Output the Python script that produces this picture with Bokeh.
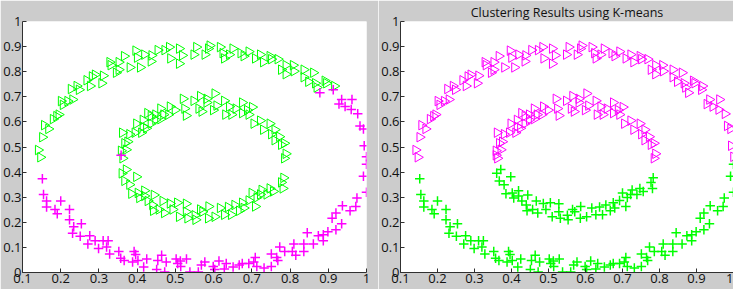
import math
from bokeh.plotting import figure
from bokeh.layouts import row
from bokeh.models import FixedTicker, Range1d
from bokeh.embed import file_html
from bokeh.resources import INLINE

# ---------------- data ----------------
outer_top_x = [0.141, 0.147, 0.152, 0.157, 0.168, 0.180, 0.189, 0.195, 0.201, 0.206, 0.218, 0.231, 0.227,
               0.242, 0.248, 0.268, 0.277, 0.282, 0.290, 0.307, 0.311, 0.328, 0.331, 0.345, 0.352, 0.352,
               0.366, 0.381, 0.396, 0.400, 0.408, 0.419, 0.438, 0.436, 0.454, 0.472, 0.484, 0.487, 0.510,
               0.510, 0.518, 0.548, 0.555, 0.577, 0.586, 0.590, 0.617, 0.624, 0.628, 0.641, 0.650, 0.671,
               0.679, 0.692, 0.709, 0.722, 0.730, 0.747, 0.751, 0.768, 0.777, 0.789, 0.789, 0.808, 0.810,
               0.836, 0.836, 0.861, 0.848, 0.866, 0.870, 0.891, 0.895, 0.916]
outer_top_y = [0.488, 0.459, 0.539, 0.587, 0.572, 0.611, 0.623, 0.629, 0.683, 0.668, 0.683, 0.689, 0.731,
               0.743, 0.728, 0.766, 0.743, 0.781, 0.788, 0.754, 0.784, 0.838, 0.826, 0.796, 0.838, 0.808,
               0.862, 0.817, 0.884, 0.856, 0.817, 0.868, 0.865, 0.841, 0.886, 0.886, 0.898, 0.853, 0.892,
               0.832, 0.865, 0.868, 0.898, 0.868, 0.892, 0.904, 0.898, 0.874, 0.853, 0.868, 0.892, 0.874,
               0.862, 0.880, 0.853, 0.868, 0.838, 0.862, 0.850, 0.850, 0.808, 0.826, 0.790, 0.826, 0.802,
               0.808, 0.778, 0.796, 0.760, 0.754, 0.737, 0.764, 0.754, 0.743]

outer_right_x = [0.878, 0.913, 0.935, 0.928, 0.944, 0.962, 0.960, 0.977, 0.983, 0.992, 0.994, 1.000]
outer_right_y = [0.716, 0.728, 0.689, 0.671, 0.661, 0.689, 0.649, 0.632, 0.584, 0.572, 0.505, 0.461]

outer_bottom_x = [1.000, 0.992, 1.000, 0.975, 0.972, 0.957, 0.937, 0.935, 0.920, 0.910, 0.920, 0.899,
                  0.887, 0.874, 0.887, 0.861, 0.845, 0.836, 0.836, 0.810, 0.806, 0.815, 0.773, 0.786,
                  0.765, 0.751, 0.768, 0.751, 0.732, 0.713, 0.709, 0.705, 0.692, 0.675, 0.667, 0.651,
                  0.633, 0.628, 0.614, 0.599, 0.603, 0.577, 0.568, 0.560, 0.538, 0.529, 0.513, 0.506,
                  0.502, 0.514, 0.476, 0.472, 0.464, 0.454, 0.451, 0.425, 0.417, 0.402, 0.396, 0.388,
                  0.392, 0.366, 0.357, 0.352, 0.328, 0.320, 0.324, 0.311, 0.299, 0.290, 0.276, 0.271,
                  0.251, 0.254, 0.231, 0.234, 0.223, 0.223, 0.200, 0.191, 0.185, 0.163, 0.163, 0.155,
                  0.152]
outer_bottom_y = [0.431, 0.383, 0.320, 0.297, 0.263, 0.246, 0.266, 0.194, 0.237, 0.216, 0.170, 0.162,
                  0.150, 0.146, 0.126, 0.114, 0.158, 0.114, 0.084, 0.114, 0.084, 0.069, 0.102, 0.084,
                  0.060, 0.074, 0.048, 0.024, 0.018, 0.024, 0.060, 0.042, 0.036, 0.036, 0.030, 0.022,
                  0.036, 0.014, 0.046, 0.024, 0.012, 0.042, 0.030, 0.002, 0.002, 0.054, 0.046, 0.036,
                  0.054, 0.024, 0.042, 0.002, 0.069, 0.048, 0.012, 0.054, 0.022, 0.048, 0.072, 0.042,
                  0.084, 0.048, 0.057, 0.084, 0.074, 0.102, 0.126, 0.126, 0.096, 0.126, 0.146, 0.114,
                  0.144, 0.194, 0.156, 0.182, 0.210, 0.251, 0.285, 0.234, 0.251, 0.261, 0.285, 0.311,
                  0.374]

inner_top_x = [0.358, 0.362, 0.361, 0.367, 0.375, 0.371, 0.380, 0.394, 0.398, 0.411, 0.415, 0.415, 0.424,
               0.427, 0.436, 0.436, 0.448, 0.448, 0.461, 0.461, 0.469, 0.482, 0.486, 0.499, 0.520, 0.524,
               0.528, 0.548, 0.565, 0.561, 0.569, 0.582, 0.582, 0.603, 0.599, 0.608, 0.628, 0.631, 0.641,
               0.647, 0.658, 0.675, 0.675, 0.688, 0.692, 0.701, 0.705, 0.722, 0.730, 0.747, 0.751, 0.760,
               0.760, 0.772, 0.777, 0.785, 0.789, 0.785]
inner_top_y = [0.485, 0.455, 0.557, 0.515, 0.521, 0.489, 0.551, 0.557, 0.593, 0.557, 0.581, 0.608, 0.575,
               0.635, 0.593, 0.623, 0.629, 0.608, 0.653, 0.611, 0.629, 0.629, 0.661, 0.647, 0.692, 0.653,
               0.625, 0.684, 0.703, 0.653, 0.641, 0.692, 0.677, 0.713, 0.647, 0.665, 0.684, 0.629, 0.661,
               0.629, 0.653, 0.677, 0.635, 0.647, 0.629, 0.659, 0.593, 0.605, 0.569, 0.593, 0.551, 0.569,
               0.527, 0.541, 0.509, 0.515, 0.473, 0.455]

inner_bottom_x = [0.360, 0.371, 0.367, 0.380, 0.398, 0.385, 0.402, 0.406, 0.419, 0.419, 0.428, 0.444,
                  0.440, 0.442, 0.457, 0.467, 0.471, 0.486, 0.493, 0.505, 0.510, 0.528, 0.528, 0.532,
                  0.551, 0.553, 0.565, 0.571, 0.586, 0.587, 0.603, 0.617, 0.628, 0.638, 0.646, 0.655,
                  0.667, 0.675, 0.679, 0.692, 0.700, 0.709, 0.713, 0.722, 0.726, 0.739, 0.747, 0.756,
                  0.777, 0.783, 0.781]
inner_bottom_y = [0.395, 0.410, 0.365, 0.350, 0.381, 0.314, 0.317, 0.297, 0.326, 0.305, 0.285, 0.309,
                  0.269, 0.246, 0.251, 0.285, 0.237, 0.275, 0.251, 0.278, 0.222, 0.274, 0.242, 0.216,
                  0.228, 0.210, 0.251, 0.242, 0.216, 0.263, 0.222, 0.257, 0.230, 0.261, 0.230, 0.269,
                  0.246, 0.278, 0.257, 0.287, 0.317, 0.263, 0.299, 0.311, 0.329, 0.311, 0.335, 0.323,
                  0.359, 0.377, 0.335]

odd_x = [0.358]
odd_y = [0.467]

x_ticks = [0.1, 0.2, 0.3, 0.4, 0.5, 0.6, 0.7, 0.8, 0.9, 1.0]
x_labels = ["0.1", "0.2", "0.3", "0.4", "0.5", "0.6", "0.7", "0.8", "0.9", "1"]
y_ticks = [0.0, 0.1, 0.2, 0.3, 0.4, 0.5, 0.6, 0.7, 0.8, 0.9, 1.0]
y_labels = ["0", "0.1", "0.2", "0.3", "0.4", "0.5", "0.6", "0.7", "0.8", "0.9", "1"]

title_right = "Clustering Results using K-means"

# ---------------- styling ----------------
GRAY = "#cccccc"
GREEN = "#00ff00"
MAGENTA = "#ff00ff"
FONT = "Open Sans"


def make_fig(width, height, bl, br, bt, bb, title=None):
    p = figure(width=width, height=height, output_backend="svg", toolbar_location=None,
               x_range=Range1d(0.1, 1.0), y_range=Range1d(0.0, 1.0),
               min_border_left=bl, min_border_right=br, min_border_top=bt, min_border_bottom=bb,
               title=title)
    p.border_fill_color = GRAY
    p.background_fill_color = "white"
    p.outline_line_color = None
    p.grid.visible = False
    for ax, ticks, labels in ((p.xaxis[0], x_ticks, x_labels), (p.yaxis[0], y_ticks, y_labels)):
        ax.ticker = FixedTicker(ticks=ticks)
        ax.major_label_overrides = {t: l for t, l in zip(ticks, labels)}
        ax.major_tick_in = 4
        ax.major_tick_out = 0
        ax.minor_tick_line_color = None
        ax.axis_line_color = "#303030"
        ax.major_tick_line_color = "#303030"
        ax.major_label_text_font = FONT
        ax.major_label_text_font_size = "13px"
        ax.major_label_text_color = "#111111"
        ax.major_label_standoff = 1
    if title:
        p.title.align = "center"
        p.title.text_font = FONT
        p.title.text_font_style = "normal"
        p.title.text_font_size = "12.5px"
        p.title.text_color = "#111111"
        p.title.standoff = 2
    return p


def tri(p, xs, ys, color):
    p.scatter(xs, ys, marker="triangle", angle=-math.pi / 2, size=9.5,
              fill_color=None, line_color=color, line_width=1)


def plus(p, xs, ys, color):
    p.scatter(xs, ys, marker="cross", size=9.5, line_color=color, line_width=1.5)


# left panel
left = make_fig(378, 289, 22, 12, 4, 17)
tri(left, outer_top_x + inner_top_x + inner_bottom_x,
    outer_top_y + inner_top_y + inner_bottom_y, GREEN)
plus(left, outer_right_x + outer_bottom_x + odd_x,
     outer_right_y + outer_bottom_y + odd_y, MAGENTA)

# right panel: K-means assignment
right = make_fig(355, 289, 22, 0, 17, 17, title=title_right)
tri(right, outer_top_x + outer_right_x + inner_top_x + odd_x,
    outer_top_y + outer_right_y + inner_top_y + odd_y, MAGENTA)
plus(right, outer_bottom_x + inner_bottom_x,
     outer_bottom_y + inner_bottom_y, GREEN)

p = row(left, right, spacing=0)

open("out.html", "w").write(file_html(p, INLINE))
